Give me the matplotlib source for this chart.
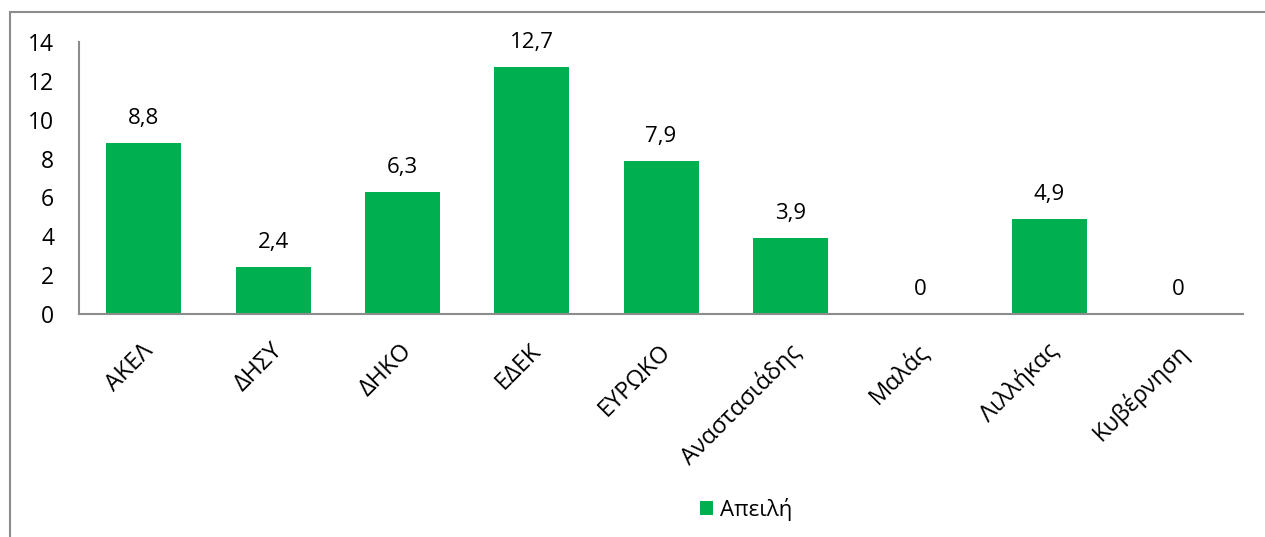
import matplotlib.pyplot as plt
from matplotlib.patches import Rectangle
from matplotlib.transforms import ScaledTranslation

categories = ['ΑΚΕΛ', 'ΔΗΣΥ', 'ΔΗΚΟ', 'ΕΔΕΚ', 'ΕΥΡΩΚΟ',
              'Αναστασιάδης', 'Μαλάς', 'Λιλλήκας', 'Κυβέρνηση']
values = [8.8, 2.4, 6.3, 12.7, 7.9, 3.9, 0, 4.9, 0]
series_name = 'Απειλή'

plt.rcParams['font.family'] = ['Open Sans', 'DejaVu Sans']

fig = plt.figure(figsize=(12.65, 5.37), dpi=100)
ax = fig.add_axes([0.0625, 0.4153, 0.9202, 0.5065])

# outer chart border (cut off at right and bottom like the original)
fig.patches.append(Rectangle((10 / 1265, -0.05), 1.2, 1.0 - 12 / 537 + 0.05,
                             transform=fig.transFigure, fill=False,
                             edgecolor='#8c8c8c', linewidth=1.5))

x = range(len(categories))
bars = ax.bar(x, values, width=0.58, color='#00B050', label=series_name)

for xi, v in zip(x, values):
    txt = f'{v:g}'.replace('.', ',')
    ax.annotate(txt, (xi, v), xytext=(0, 10), textcoords='offset points',
                ha='center', va='bottom', fontsize=16)

ax.set_xlim(-0.5, len(categories) - 0.5)
ax.set_ylim(0, 14)
ax.set_yticks(range(0, 15, 2))
ax.set_xticks(list(x))
ax.set_xticklabels(categories, rotation=45, ha='right',
                   rotation_mode='anchor', fontsize=17)
ax.tick_params(axis='y', length=0, labelsize=16.5, pad=18)
ax.tick_params(axis='x', length=0, pad=12)
shift = ScaledTranslation(-2 / 72, -6 / 72, fig.dpi_scale_trans)
for lab in ax.get_xticklabels():
    lab.set_transform(lab.get_transform() + shift)

for s in ['top', 'right']:
    ax.spines[s].set_visible(False)
for s in ['left', 'bottom']:
    ax.spines[s].set_color('#8c8c8c')
    ax.spines[s].set_linewidth(1.5)

fig.legend(handles=[bars], loc='center', bbox_to_anchor=(0.59, 0.052),
           frameon=False, fontsize=16, handlelength=0.6, handleheight=0.6,
           handletextpad=0.3)

fig.savefig('out.png', dpi=100)
